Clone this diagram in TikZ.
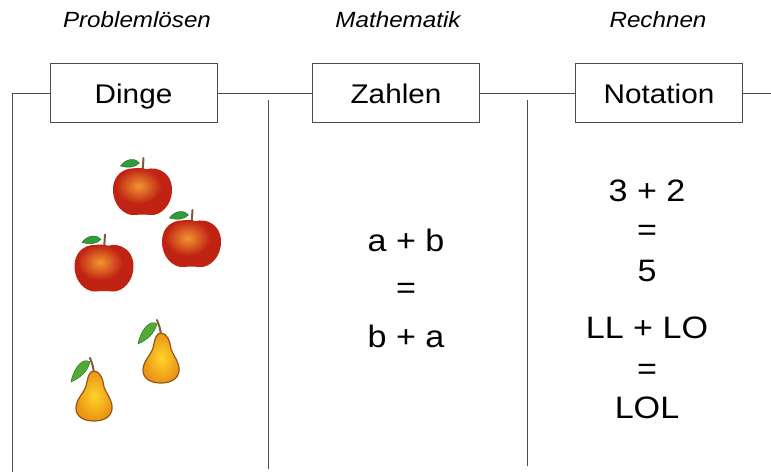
\documentclass[tikz,border=0pt]{standalone}
\usepackage{fontspec}
\setmainfont[FakeStretch=1.1]{Liberation Sans}
\usetikzlibrary{positioning}

\definecolor{applered}{RGB}{192,34,20}
\definecolor{appleorange}{RGB}{240,150,48}
\definecolor{leafgreen}{RGB}{50,155,60}
\definecolor{leafdark}{RGB}{30,100,40}
\definecolor{stembrown}{RGB}{125,90,60}
\definecolor{pearyellow}{RGB}{255,212,40}
\definecolor{pearorange}{RGB}{234,148,22}
\definecolor{pearline}{RGB}{150,85,25}

\newcommand{\hdfont}{\fontsize{22}{26}\selectfont\itshape}
\newcommand{\bxfont}{\fontsize{27}{32}\selectfont}
\newcommand{\eqfont}{\fontsize{31}{36}\selectfont}

\tikzset{
  rule/.style={draw=black!70, line width=1pt},
  topic/.style={rule, fill=white, minimum width=167pt, minimum height=59pt,
    text height=21pt, text depth=0pt, inner sep=0pt, font=\bxfont},
  colhead/.style={anchor=base, font=\hdfont},
  term/.style={anchor=base, font=\eqfont, inner sep=0pt},
  apple/.pic={
    \draw[leafdark, fill=leafgreen, line width=0.4pt]
      (-3,-28) .. controls (-8,-34) and (-17,-32) .. (-22,-25)
      .. controls (-15,-23) and (-8,-23) .. (-3,-28) -- cycle;
    \draw[stembrown, line width=2pt, line cap=round] (0,-18) .. controls (0.5,-25) .. (1,-33);
    \fill[applered]
      (0,-19) .. controls (8,-27) and (29,-22) .. (29.5,-2)
      .. controls (30,14) and (18,25) .. (8,24)
      .. controls (4,23.5) and (-4,23.5) .. (-8,24)
      .. controls (-18,25) and (-30,14) .. (-29.5,-2)
      .. controls (-29,-22) and (-8,-27) .. (0,-19) -- cycle;
    % warm patch towards the upper left
    \shade[inner color=appleorange, outer color=applered] (-4,-5) ellipse (23 and 18);
  },
  pear/.pic={
    \draw[leafdark, fill=leafgreen!85!yellow, line width=0.4pt]
      (-4,-9) .. controls (-10,-14) and (-20,-5) .. (-23,11)
      .. controls (-14,7) and (-6,0) .. (-4,-9) -- cycle;
    \draw[stembrown, line width=2pt, line cap=round] (0,2) .. controls (-1,-5) .. (-4,-13);
    \shade[draw=pearline, line width=1.2pt, inner color=pearyellow, outer color=pearorange]
      (0,0) .. controls (6,0) and (9,8) .. (10,16)
      .. controls (12,22) and (19,30) .. (18,38)
      .. controls (17,47) and (8,50) .. (0,50)
      .. controls (-10,50) and (-18,46) .. (-18,37)
      .. controls (-18,28) and (-10,22) .. (-8,15)
      .. controls (-6,6) and (-5,0) .. (0,0) -- cycle;
  }
}

\begin{document}
\begin{tikzpicture}[x=1pt,y=-1pt]
  \useasboundingbox (0,0) rectangle (771,475);

  \node[colhead] (hdthings) at (137,27) {Problemlösen};
  \node[colhead] (hdmath) at (398,27) {Mathematik};
  \node[colhead] (hdcalc) at (658,27) {Rechnen};

  \node[topic] (dinge) at (133.5,93) {Dinge};
  \node[topic] (zahlen) at (396,93) {Zahlen};
  \node[topic] (notation) at (659,93) {Notation};

  \coordinate (corner) at (12,93);
  \coordinate (leftfoot) at (12,472);
  \coordinate (rightend) at (771,93);
  \coordinate (midtop) at (268,100);
  \coordinate (midfoot) at (268,469);
  \coordinate (righttop) at (527,100);
  \coordinate (rightfoot) at (527,466);

  \draw[rule] (leftfoot) -- (corner) -- (dinge);
  \draw[rule] (dinge) -- (zahlen);
  \draw[rule] (zahlen) -- (notation);
  \draw[rule] (notation) -- (rightend);
  \draw[rule] (midtop) -- (midfoot);
  \draw[rule] (righttop) -- (rightfoot);

  \pic at (142.5,191) {apple};
  \pic at (104,267.5) {apple};
  \pic at (191.5,243) {apple};
  \pic at (161,333) {pear};
  \pic at (94,371) {pear};

  \node[term] (sumab) at (406,251) {a + b};
  \node[term] (eqab) at (406,298) {=};
  \node[term] (sumba) at (406,347) {b + a};

  \node[term] (sumdig) at (647,201) {3 + 2};
  \node[term] (eqdig) at (647,240) {=};
  \node[term] (resdig) at (647,281) {5};

  \node[term] (sumlet) at (647,338) {LL + LO};
  \node[term] (eqlet) at (647,379) {=};
  \node[term] (reslet) at (647,418) {LOL};
\end{tikzpicture}
\end{document}
